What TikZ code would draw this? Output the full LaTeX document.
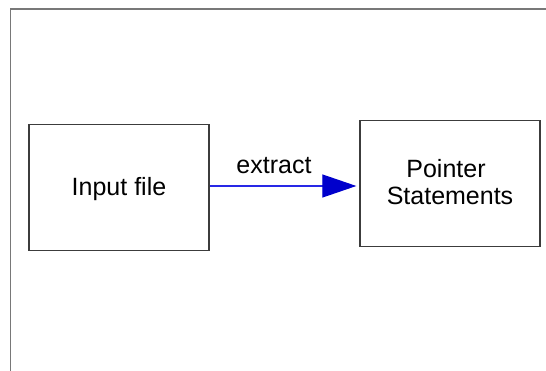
\documentclass[tikz,border=0pt]{standalone}
\usepackage{fontspec}
\setmainfont{Liberation Sans}
\usetikzlibrary{arrows.meta}
\definecolor{framegray}{RGB}{120,120,120}
\definecolor{boxline}{RGB}{60,60,60}
\definecolor{flowblue}{RGB}{0,0,204}
\definecolor{flowline}{RGB}{40,40,230}
\tikzset{
  procbox/.style={draw=boxline, line width=1.3pt, fill=white, rectangle,
    minimum width=180pt, minimum height=126pt, inner sep=0pt,
    font=\fontsize{25}{27.4}\selectfont, align=center, text depth=0pt},
  flow/.style={draw=flowline, line width=1.1pt,
    -{Triangle[length=34pt,width=23pt,color=flowblue,fill=flowblue]}},
  flowlabel/.style={font=\fontsize{25}{27.4}\selectfont, inner sep=0pt, anchor=base}
}
\begin{document}
\begin{tikzpicture}[x=1pt,y=-1pt]
  \useasboundingbox (0,0) rectangle (546,371);
  % page frame (top and left edges)
  \draw[framegray, line width=1.3pt] (546,9) -- (10.5,9) -- (10.5,371);
  % the two process boxes
  \node[procbox, text height=17pt] (input) at (119,187.5) {Input file};
  \node[procbox, text height=42.6pt] (ptrs) at (450,183.7) {Pointer\hspace*{8pt}\\Statements};
  % extraction step
  \draw[flow, shorten >=3pt] ([yshift=1.5pt]input.east) -- ([yshift=1.5pt]input.east -| ptrs.west);
  \node[flowlabel] (extract) at (274,174) {extract};
\end{tikzpicture}
\end{document}
